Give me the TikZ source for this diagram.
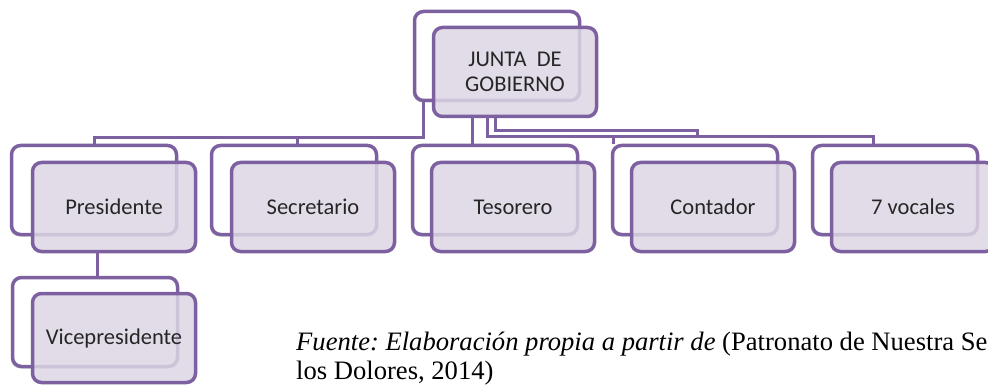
\documentclass[tikz,border=0pt]{standalone}
\usepackage{fontspec}
\setmainfont{Liberation Serif}
\newfontfamily\boxfont{Carlito}
\usepackage{xcolor}
\usetikzlibrary{positioning, shadows}
\frenchspacing

\definecolor{orgpurple}{RGB}{125,96,160}
\definecolor{orglilac}{RGB}{221,214,229}

\begin{document}
\begin{tikzpicture}[
  x=1pt, y=-1pt,
  back/.style={
    rectangle,
    draw=orgpurple,
    line width=3.5pt,
    fill=white,
    minimum width=165pt,
    minimum height=89pt,
    rounded corners=9pt,
    drop shadow={shadow xshift=-1.5pt, shadow yshift=-2pt, opacity=0.3}
  },
  front/.style={
    rectangle,
    draw=orgpurple,
    line width=3.5pt,
    fill=orglilac,
    fill opacity=0.85,
    text opacity=1,
    minimum width=163pt,
    minimum height=89pt,
    rounded corners=9pt,
    font=\boxfont\fontsize{22.5}{25}\selectfont,
    text=black!85,
    align=center
  },
  link/.style={
    draw=orgpurple,
    line width=3pt
  },
  source/.style={
    anchor=base west,
    inner sep=0pt,
    font=\fontsize{26.6}{30}\selectfont
  }
]
\clip (0,0) rectangle (988,385);
\useasboundingbox (0,0) rectangle (988,385);

% Top of the chart
\node[back] (jb) at (497,56) {};
\node[front] (jf) at (515,72) {JUNTA~ DE\\GOBIERNO};

% Second level
\node[back] (pb) at (94,190) {};
\node[front] (pf) at (114,207) {Presidente};
\node[back] (sb) at (294,190) {};
\node[front] (sf) at (313,207) {Secretario};
\node[back] (tb) at (495,190) {};
\node[front] (tf) at (513,207) {Tesorero};
\node[back] (cb) at (695,190) {};
\node[front] (cf) at (713,207) {Contador};
\node[back] (vb) at (895,190) {};
\node[front] (vf) at (913,207) {7 vocales};

% Third level
\node[back] (vpb) at (95,322) {};
\node[front] (vpf) at (114,338) {Vicepresidente};

% Bus points for the connectors
\coordinate (busl) at (423,138);
\coordinate (busm) at (487,137);
\coordinate (busr) at (495,131);
\coordinate (tx) at (472,0);
\coordinate (cx) at (613,0);
\coordinate (ex) at (697,137);
\coordinate (vx) at (873,0);
\coordinate (sx) at (297,0);

% Connectors
\draw[link] (jb.south -| busl) -- (busl) -| (pb.north);
\draw[link] (busl) -| (sb.north -| sx);
\draw[link] (jf.south -| tx) -- (tb.north -| tx);
\draw[link] (jf.south -| busm) -- (busm) -| (vb.north -| vx);
\draw[link] (busm -| cx) -- (cb.north -| cx);
\draw[link] (jf.south -| busr) -- (busr) -| (ex);
\draw[link] (pf.south -| 97,0) -- (vpb.north -| 97,0);

% Source note
\node[source] (src1) at (296,350) {\textit{Fuente: Elaboración propia a partir de} (Patronato de Nuestra Se};
\node[source] (src2) at (296,379) {los Dolores, 2014)};
\end{tikzpicture}
\end{document}
